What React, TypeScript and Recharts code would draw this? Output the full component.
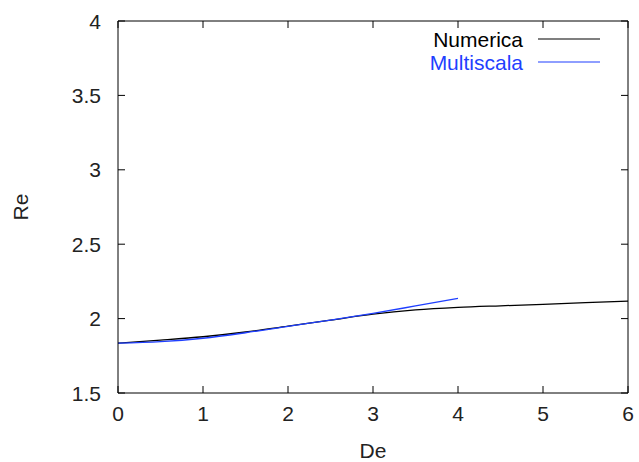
import { Label, Line, LineChart, XAxis, YAxis } from "recharts";

const numDe = [0, 0.5, 1, 1.5, 2, 2.5, 3, 3.5, 4, 4.5, 5, 5.5, 6];
const numRe = [1.835, 1.855, 1.878, 1.91, 1.95, 1.99, 2.03, 2.058, 2.075, 2.086, 2.096, 2.107, 2.118];
const multiDe = [0, 0.5, 1, 1.5, 2, 2.5, 3, 3.5, 4];
const multiRe = [1.835, 1.845, 1.868, 1.905, 1.948, 1.99, 2.035, 2.085, 2.136];
const xTicks = [0, 1, 2, 3, 4, 5, 6];
const yTicks = [1.5, 2, 2.5, 3, 3.5, 4];

const numerica = numDe.map((de, i) => ({ de, re: numRe[i] }));
const multiscala = multiDe.map((de, i) => ({ de, re: multiRe[i] }));

const font = "'Liberation Sans', Arial, sans-serif";
const blue = "#1f3fff";
const TL = 7;

function BottomTick({ x, y, payload }: any) {
  return (
    <g>
      <line x1={x} y1={y} x2={x} y2={y - TL} stroke="#000" />
      <text x={x} y={y + 28} textAnchor="middle" fontSize={21} fontFamily={font} fill="#222">
        {payload.value}
      </text>
    </g>
  );
}

function TopTick({ x, y }: any) {
  return <line x1={x} y1={y} x2={x} y2={y + TL} stroke="#000" />;
}

function LeftTick({ x, y, payload }: any) {
  return (
    <g>
      <line x1={x} y1={y} x2={x + TL} y2={y} stroke="#000" />
      <text x={x - 17} y={y + 7.5} textAnchor="end" fontSize={21} fontFamily={font} fill="#222">
        {payload.value}
      </text>
    </g>
  );
}

function RightTick({ x, y }: any) {
  return <line x1={x} y1={y} x2={x - TL} y2={y} stroke="#000" />;
}

// legend drawn as an overlay so it doesn't eat chart space
function ChartLegend() {
  const items = [
    { name: "Numerica", color: "#000", y: 39 },
    { name: "Multiscala", color: blue, y: 62 },
  ];
  return (
    <svg width={639} height={90} style={{ position: "absolute", left: 0, top: 0, pointerEvents: "none" }}>
      {items.map((it) => (
        <g key={it.name}>
          <text x={523} y={it.y + 8} textAnchor="end" fontSize={21} fontFamily={font} fill={it.color}>
            {it.name}
          </text>
          <line x1={538} y1={it.y} x2={600} y2={it.y} stroke={it.color} strokeWidth={1.2} />
        </g>
      ))}
    </svg>
  );
}

export default function App() {
  return (
    <div style={{ position: "absolute", left: 0, top: 0, width: 639, height: 462, background: "#fff" }}>
      <LineChart width={639} height={462} margin={{ top: 20, right: 10, bottom: 0, left: 0 }}>
        <XAxis
          xAxisId="bottom"
          dataKey="de"
          type="number"
          domain={[0, 6]}
          ticks={xTicks}
          allowDataOverflow
          height={69}
          tickSize={0}
          tickMargin={0}
          tickLine={false}
          axisLine={{ stroke: "#000" }}
          tick={<BottomTick />}
        >
          <Label
            value="De"
            position="insideBottom"
            offset={4}
            style={{ fontSize: 21, fontFamily: font, fill: "#222" }}
          />
        </XAxis>
        <XAxis
          xAxisId="top"
          orientation="top"
          dataKey="de"
          type="number"
          domain={[0, 6]}
          ticks={xTicks}
          allowDataOverflow
          height={1}
          tickSize={0}
          tickMargin={0}
          tickLine={false}
          axisLine={{ stroke: "#000" }}
          tick={<TopTick />}
        />
        <YAxis
          yAxisId="left"
          type="number"
          domain={[1.5, 4]}
          ticks={yTicks}
          allowDataOverflow
          width={118}
          tickSize={0}
          tickMargin={0}
          tickLine={false}
          axisLine={{ stroke: "#000" }}
          tick={<LeftTick />}
        >
          <Label
            value="Re"
            angle={-90}
            position="insideLeft"
            offset={21}
            style={{ fontSize: 21, fontFamily: font, fill: "#222", textAnchor: "middle" }}
          />
        </YAxis>
        <YAxis
          yAxisId="right"
          orientation="right"
          type="number"
          domain={[1.5, 4]}
          ticks={yTicks}
          allowDataOverflow
          width={1}
          tickSize={0}
          tickMargin={0}
          tickLine={false}
          axisLine={{ stroke: "#000" }}
          tick={<RightTick />}
        />
        {/* invisible series so the mirrored top/right axes get drawn */}
        <Line
          xAxisId="top"
          yAxisId="right"
          data={numerica}
          dataKey="re"
          stroke="none"
          dot={false}
          legendType="none"
          isAnimationActive={false}
        />
        <Line
          xAxisId="bottom"
          yAxisId="left"
          data={numerica}
          dataKey="re"
          name="Numerica"
          type="monotone"
          stroke="#000"
          strokeWidth={1.3}
          dot={false}
          isAnimationActive={false}
        />
        <Line
          xAxisId="bottom"
          yAxisId="left"
          data={multiscala}
          dataKey="re"
          name="Multiscala"
          type="monotone"
          stroke={blue}
          strokeWidth={1.3}
          dot={false}
          isAnimationActive={false}
        />
      </LineChart>
      <ChartLegend />
    </div>
  );
}
